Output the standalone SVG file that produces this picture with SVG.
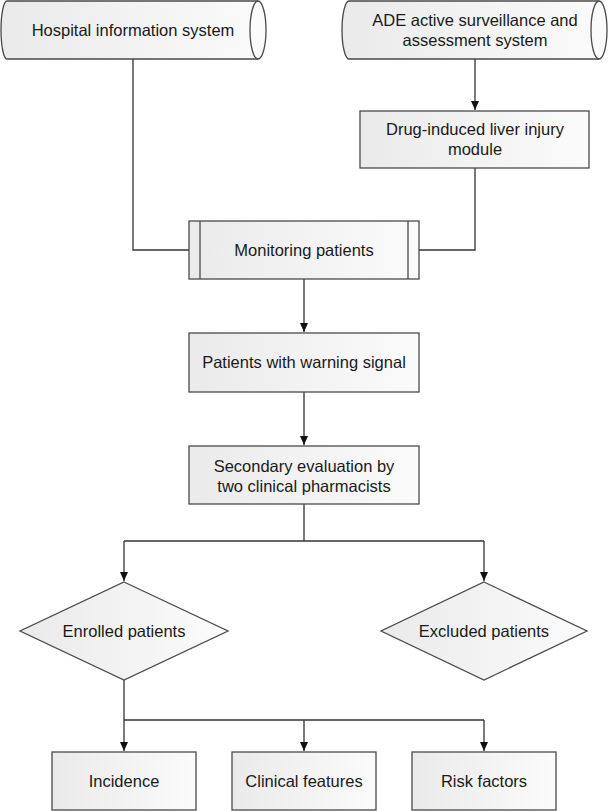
<svg xmlns="http://www.w3.org/2000/svg" width="608" height="811" viewBox="0 0 608 811">
<defs>
<linearGradient id="g" x1="0" y1="0" x2="1" y2="0">
<stop offset="0" stop-color="#eaeaea"/>
<stop offset="1" stop-color="#fbfbfb"/>
</linearGradient>
<marker id="ah" markerWidth="10" markerHeight="10" refX="9" refY="4" orient="auto" markerUnits="userSpaceOnUse">
<path d="M0,0 L9,4 L0,8 Z" fill="#111"/>
</marker>
<style>
.s{fill:url(#g);stroke:#4a4a4a;stroke-width:1.3}
.l{fill:none;stroke:#333;stroke-width:1.3}
.t{font-family:"Liberation Sans",Arial,sans-serif;font-size:16.5px;fill:#1a1a1a;text-anchor:middle}
</style>
</defs>
<rect width="608" height="811" fill="#fff"/>
<g id="connectors">
<path class="l" d="M133,59 V250 H189"/>
<path class="l" d="M475,168 V250 H419"/>
<path class="l" d="M475,59 V110" marker-end="url(#ah)"/>
<path class="l" d="M304,279 V332" marker-end="url(#ah)"/>
<path class="l" d="M304,392 V445" marker-end="url(#ah)"/>
<path class="l" d="M304,504 V541"/>
<path class="l" d="M124,541 H484"/>
<path class="l" d="M124,541 V581" marker-end="url(#ah)"/>
<path class="l" d="M484,541 V581" marker-end="url(#ah)"/>
<path class="l" d="M124,680 V720"/>
<path class="l" d="M124,720 H484"/>
<path class="l" d="M124,720 V751" marker-end="url(#ah)"/>
<path class="l" d="M304,720 V751" marker-end="url(#ah)"/>
<path class="l" d="M484,720 V751" marker-end="url(#ah)"/>
</g>
<g id="hospital">
<path class="s" d="M7,1 L258,1 A8,29 0 0 1 258,59 L7,59 A6,29 0 0 1 7,1 Z"/>
<path class="l" d="M258,1 A8,29 0 0 0 258,59" style="stroke:#4a4a4a"/>
<text class="t" x="133" y="36">Hospital information system</text>
</g>
<g id="ade">
<path class="s" d="M349,1 L599,1 A8,29 0 0 1 599,59 L349,59 A7,29 0 0 1 349,1 Z"/>
<path class="l" d="M599,1 A8,29 0 0 0 599,59" style="stroke:#4a4a4a"/>
<text class="t" x="475" y="26">ADE active surveillance and</text>
<text class="t" x="475" y="46">assessment system</text>
</g>
<g id="module">
<rect class="s" x="360" y="111" width="229" height="57"/>
<text class="t" x="475" y="135">Drug-induced liver injury</text>
<text class="t" x="475" y="155">module</text>
</g>
<g id="monitoring">
<rect class="s" x="189" y="221" width="230" height="58"/>
<line class="l" x1="200" y1="221" x2="200" y2="279" style="stroke:#4a4a4a"/>
<line class="l" x1="408" y1="221" x2="408" y2="279" style="stroke:#4a4a4a"/>
<text class="t" x="304" y="256">Monitoring patients</text>
</g>
<g id="warning">
<rect class="s" x="189" y="333" width="230" height="59"/>
<text class="t" x="304" y="368">Patients with warning signal</text>
</g>
<g id="secondary">
<rect class="s" x="189" y="446" width="230" height="58"/>
<text class="t" x="304" y="472">Secondary evaluation by</text>
<text class="t" x="304" y="492">two clinical pharmacists</text>
</g>
<g id="enrolled">
<path class="s" d="M124,582 L228,631 L124,680 L20,631 Z"/>
<text class="t" x="124" y="637">Enrolled patients</text>
</g>
<g id="excluded">
<path class="s" d="M484,582 L587,631 L484,680 L381,631 Z"/>
<text class="t" x="484" y="637">Excluded patients</text>
</g>
<g id="incidence">
<rect class="s" x="52" y="752" width="144" height="58"/>
<text class="t" x="124" y="787">Incidence</text>
</g>
<g id="clinical">
<rect class="s" x="232" y="752" width="144" height="58"/>
<text class="t" x="304" y="787">Clinical features</text>
</g>
<g id="risk">
<rect class="s" x="412" y="752" width="144" height="58"/>
<text class="t" x="484" y="787">Risk factors</text>
</g>
</svg>
